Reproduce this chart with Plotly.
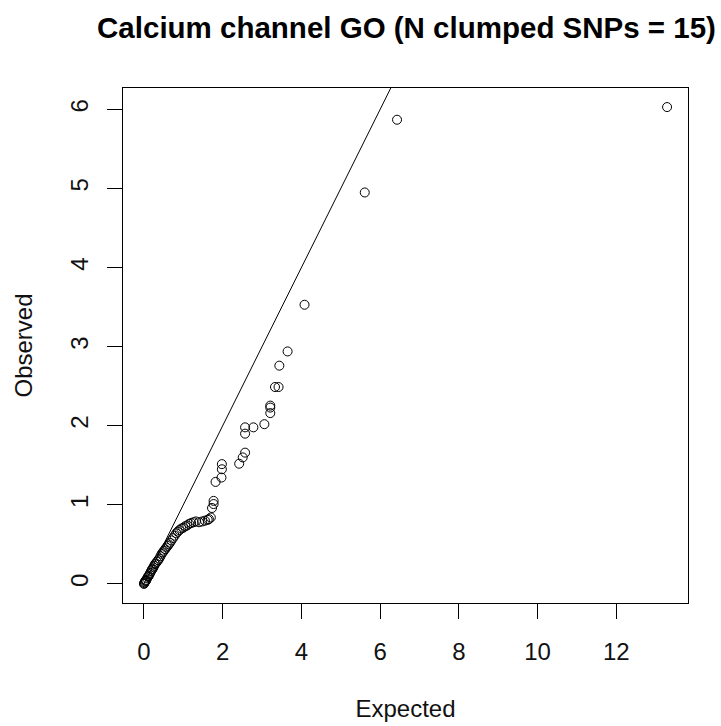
import plotly.graph_objects as go

title_text = "Calcium channel GO (N clumped SNPs = 15)"
x_label = "Expected"
y_label = "Observed"

expected = [0.00, 0.01, 0.02, 0.03, 0.04, 0.05, 0.06, 0.08, 0.10, 0.12, 0.14, 0.16,
            0.18, 0.20, 0.22, 0.24, 0.26, 0.28, 0.30, 0.33, 0.36, 0.39, 0.42, 0.45,
            0.48, 0.51, 0.54, 0.57, 0.60, 0.63, 0.66, 0.70, 0.74, 0.78, 0.82, 0.86,
            0.90, 0.95, 1.00, 1.05, 1.10, 1.15, 1.20, 1.26, 1.32, 1.40, 1.48, 1.55,
            1.62, 1.65, 1.70, 1.73, 1.77, 1.77,
            1.82, 1.97, 1.98, 1.98, 2.42, 2.51, 2.57, 2.57, 2.57, 2.78, 3.06, 3.21,
            3.21, 3.21, 3.33, 3.42, 3.44, 3.65, 4.08, 5.61, 6.43, 13.29]
observed = [0.00, 0.01, 0.02, 0.03, 0.04, 0.04, 0.05, 0.07, 0.09, 0.10, 0.12, 0.14,
            0.16, 0.18, 0.19, 0.21, 0.23, 0.25, 0.26, 0.28, 0.30, 0.32, 0.35, 0.38,
            0.40, 0.42, 0.44, 0.46, 0.48, 0.50, 0.52, 0.55, 0.58, 0.61, 0.64, 0.66,
            0.68, 0.70, 0.71, 0.73, 0.74, 0.76, 0.77, 0.78, 0.79, 0.78, 0.79, 0.80,
            0.81, 0.82, 0.84, 0.96, 1.01, 1.05,
            1.29, 1.345, 1.45, 1.515, 1.52, 1.60, 1.66, 1.90, 1.98, 1.98, 2.02, 2.16,
            2.23, 2.255, 2.49, 2.49, 2.76, 2.94, 3.53, 4.95, 5.87, 6.03]

xt = [0, 2, 4, 6, 8, 10, 12]
yt = [0, 1, 2, 3, 4, 5, 6]

def ext(vals):
    lo, hi = min(vals), max(vals)
    d = (hi - lo) * 0.04
    return [lo - d, hi + d]

font_family = "Liberation Sans, Arial, sans-serif"
txt_color = "#111111"

fig = go.Figure()
fig.add_trace(go.Scatter(
    x=[min(expected), max(expected)], y=[min(expected), max(expected)],
    mode="lines", line=dict(color="black", width=1), showlegend=False,
    hoverinfo="skip"))
fig.add_trace(go.Scatter(
    x=expected, y=observed, mode="markers",
    marker=dict(symbol="circle-open", size=9, color="black", line=dict(width=1)),
    showlegend=False))

axis_common = dict(showgrid=False, zeroline=False, showline=True, mirror=True,
                   linecolor="black", linewidth=1, ticks="outside", ticklen=15,
                   tickcolor="black", tickwidth=1, automargin=False,
                   tickfont=dict(family=font_family, size=24, color=txt_color))

fig.update_layout(
    width=721, height=726,
    margin=dict(l=123, r=33, t=88, b=123),
    paper_bgcolor="white", plot_bgcolor="white",
    title=dict(text="<b>" + title_text + "</b>", x=406.5 / 721, xanchor="center",
               y=1 - 28 / 726, yanchor="middle",
               font=dict(family=font_family, size=29.5, color="black")),
    xaxis=dict(range=ext(expected), tickvals=xt, ticktext=[str(v) for v in xt],
               ticklabelstandoff=12,
               title=dict(text=x_label, standoff=36,
                          font=dict(family=font_family, size=24, color=txt_color)),
               **axis_common),
    yaxis=dict(range=ext(observed), tickvals=yt, ticktext=[str(v) for v in yt],
               tickangle=-90, ticklabelstandoff=9,
               title=dict(text=y_label, standoff=27,
                          font=dict(family=font_family, size=24, color=txt_color)),
               **axis_common),
)

fig.write_html("out.html",
               config={"displayModeBar": False, "staticPlot": True},
               post_script="document.body.style.margin='0';document.body.style.overflow='hidden';")
